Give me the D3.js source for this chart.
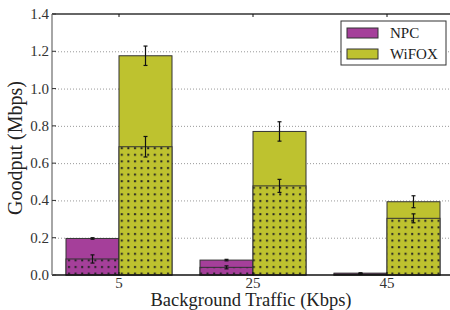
<!DOCTYPE html>
<html>
<head>
<meta charset="utf-8">
<script src="https://cdn.jsdelivr.net/npm/d3@7/dist/d3.min.js"></script>
<style>
  body { margin: 0; background: #fff; }
  svg { display: block; }
</style>
</head>
<body>
<svg id="chart"></svg>
<script>
const categories = ['5', '25', '45']
const series = ['NPC', 'WiFOX']
// total goodput and error
const npcTotal = [0.196, 0.080, 0.010]
const npcTotalErr = [0.004, 0.004, 0.002]
// dotted (inner) part and error
const npcInner = [0.086, 0.041, 0.005]
const npcInnerErr = [0.022, 0.008, 0.002]
const wifoxTotal = [1.176, 0.770, 0.393]
const wifoxTotalErr = [0.052, 0.052, 0.032]
const wifoxInner = [0.688, 0.478, 0.304]
const wifoxInnerErr = [0.055, 0.035, 0.024]
const yTicks = [0.0, 0.2, 0.4, 0.6, 0.8, 1.0, 1.2, 1.4]

const colors = { NPC: '#a53f9a', WiFOX: '#bec22f' }
const font = "'Liberation Serif', 'DejaVu Serif', serif"

const width = 450
const height = 310
const margin = { left: 52, top: 14, right: -4, bottom: 35 }

const svg = d3.select('#chart')
  .attr('width', width)
  .attr('height', height)

const defs = svg.append('defs')
const pat = defs.append('pattern')
  .attr('id', 'dots')
  .attr('patternUnits', 'userSpaceOnUse')
  .attr('width', 6.6)
  .attr('height', 6.6)
pat.append('rect')
  .attr('x', 2).attr('y', 2)
  .attr('width', 2).attr('height', 2)
  .attr('fill', '#222')

const x = d3.scaleBand()
  .domain(categories)
  .range([margin.left, width - margin.right])

const y = d3.scaleLinear()
  .domain([0, 1.4])
  .range([height - margin.bottom, margin.top])

const barW = 53

// grid lines
svg.append('g')
  .selectAll('line')
  .data(yTicks.slice(1, -1))
  .join('line')
  .attr('x1', margin.left)
  .attr('x2', width)
  .attr('y1', d => y(d) + 0.5)
  .attr('y2', d => y(d) + 0.5)
  .attr('stroke', '#999')
  .attr('stroke-width', 1)
  .attr('stroke-dasharray', '1,2')

const data = categories.map((c, i) => ({
  cat: c,
  bars: [
    { s: 'NPC', total: npcTotal[i], tErr: npcTotalErr[i], inner: npcInner[i], iErr: npcInnerErr[i], off: -barW },
    { s: 'WiFOX', total: wifoxTotal[i], tErr: wifoxTotalErr[i], inner: wifoxInner[i], iErr: wifoxInnerErr[i], off: 0 }
  ]
}))

data.forEach(g => {
  const cx = x(g.cat) + x.bandwidth() / 2
  g.bars.forEach(b => {
    const bx = cx + b.off
    svg.append('rect')
      .attr('x', bx)
      .attr('y', y(b.total))
      .attr('width', barW)
      .attr('height', y(0) - y(b.total))
      .attr('fill', colors[b.s])
      .attr('stroke', '#333')
      .attr('stroke-width', 1)
    svg.append('rect')
      .attr('x', bx)
      .attr('y', y(b.inner))
      .attr('width', barW)
      .attr('height', y(0) - y(b.inner))
      .attr('fill', colors[b.s])
    svg.append('rect')
      .attr('x', bx)
      .attr('y', y(b.inner))
      .attr('width', barW)
      .attr('height', y(0) - y(b.inner))
      .attr('fill', 'url(#dots)')
      .attr('stroke', '#333')
      .attr('stroke-width', 1)

    const ex = bx + barW / 2
    ;[[b.total, b.tErr], [b.inner, b.iErr]].forEach(([v, e]) => {
      svg.append('line')
        .attr('x1', ex).attr('x2', ex)
        .attr('y1', y(v - e)).attr('y2', y(v + e))
        .attr('stroke', '#111').attr('stroke-width', 1.2)
      ;[v - e, v + e].forEach(t => {
        svg.append('line')
          .attr('x1', ex - 2).attr('x2', ex + 2)
          .attr('y1', y(t)).attr('y2', y(t))
          .attr('stroke', '#111').attr('stroke-width', 1.2)
      })
    })
  })
})

// axes frame
svg.append('line')
  .attr('x1', margin.left).attr('x2', width)
  .attr('y1', y(1.4)).attr('y2', y(1.4))
  .attr('stroke', '#333').attr('stroke-width', 1.3)
svg.append('line')
  .attr('x1', margin.left).attr('x2', width)
  .attr('y1', y(0)).attr('y2', y(0))
  .attr('stroke', '#111').attr('stroke-width', 1.3)
svg.append('line')
  .attr('x1', margin.left).attr('x2', margin.left)
  .attr('y1', y(1.4)).attr('y2', y(0))
  .attr('stroke', '#888').attr('stroke-width', 1.5)

// y ticks
const yAxis = svg.append('g')
yAxis.selectAll('line')
  .data(yTicks)
  .join('line')
  .attr('x1', margin.left).attr('x2', margin.left + 4)
  .attr('y1', d => y(d)).attr('y2', d => y(d))
  .attr('stroke', '#333')
yAxis.selectAll('text')
  .data(yTicks)
  .join('text')
  .attr('x', margin.left - 3)
  .attr('y', d => y(d) + 5)
  .attr('text-anchor', 'end')
  .attr('font-family', font)
  .attr('font-size', '15px')
  .attr('fill', '#333')
  .text(d => d.toFixed(1))

// x ticks
const xAxis = svg.append('g')
categories.forEach(c => {
  const cx = x(c) + x.bandwidth() / 2
  xAxis.append('line')
    .attr('x1', cx).attr('x2', cx)
    .attr('y1', y(0)).attr('y2', y(0) - 3)
    .attr('stroke', '#111')
  xAxis.append('line')
    .attr('x1', cx).attr('x2', cx)
    .attr('y1', y(1.4)).attr('y2', y(1.4) + 3)
    .attr('stroke', '#111')
  xAxis.append('text')
    .attr('x', cx)
    .attr('y', y(0) + 13)
    .attr('text-anchor', 'middle')
    .attr('font-family', font)
    .attr('font-size', '15px')
    .attr('fill', '#333')
    .text(c)
})

svg.append('text')
  .attr('x', 251)
  .attr('y', 306)
  .attr('text-anchor', 'middle')
  .attr('font-family', font)
  .attr('font-size', '18.5px')
  .attr('fill', '#222')
  .text('Background Traffic (Kbps)')

svg.append('text')
  .attr('transform', 'translate(22,' + 148 + ') rotate(-90)')
  .attr('text-anchor', 'middle')
  .attr('font-family', font)
  .attr('font-size', '20px')
  .attr('fill', '#222')
  .text('Goodput (Mbps)')

// legend
const lg = svg.append('g').attr('transform', 'translate(341,21)')
lg.append('rect')
  .attr('width', 105).attr('height', 44)
  .attr('fill', '#fff').attr('stroke', '#333').attr('stroke-width', 1)
series.forEach((s, i) => {
  lg.append('rect')
    .attr('x', 6).attr('y', 7 + i * 21)
    .attr('width', 31).attr('height', 10)
    .attr('fill', colors[s]).attr('stroke', '#333')
  lg.append('text')
    .attr('x', 49).attr('y', 17 + i * 21)
    .attr('font-family', font)
    .attr('font-size', '15px')
    .attr('fill', '#222')
    .text(s)
})
</script>
</body>
</html>
